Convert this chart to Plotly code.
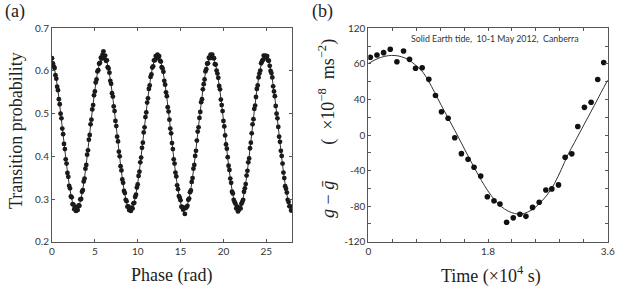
import plotly.graph_objects as go

# ---------------- Panel (a) data ----------------
phase_step_a = 0.1  # rad, scan step
prob_a = [
    # 0.0 - 5.9
    0.630, 0.618, 0.611, 0.607, 0.590, 0.582, 0.563, 0.555, 0.534, 0.522,
    0.500, 0.489, 0.465, 0.452, 0.429, 0.417, 0.393, 0.383, 0.361, 0.352,
    0.331, 0.325, 0.306, 0.304, 0.288, 0.287, 0.276, 0.281, 0.272, 0.279,
    0.274, 0.285, 0.284, 0.299, 0.300, 0.317, 0.321, 0.341, 0.348, 0.371,
    0.380, 0.404, 0.414, 0.439, 0.450, 0.475, 0.486, 0.510, 0.520, 0.543,
    0.552, 0.573, 0.580, 0.599, 0.602, 0.617, 0.619, 0.631, 0.629, 0.638,
    # 6.0 - 12.2
    0.646, 0.630, 0.636, 0.624, 0.625, 0.609, 0.606, 0.596, 0.577, 0.570,
    0.548, 0.540, 0.517, 0.506, 0.483, 0.471, 0.446, 0.435, 0.411, 0.400,
    0.377, 0.367, 0.346, 0.338, 0.319, 0.314, 0.298, 0.295, 0.282, 0.283,
    0.274, 0.278, 0.272, 0.280, 0.278, 0.290, 0.291, 0.305, 0.310, 0.327,
    0.334, 0.354, 0.364, 0.386, 0.397, 0.420, 0.432, 0.456, 0.468, 0.492,
    0.503, 0.526, 0.536, 0.558, 0.566, 0.586, 0.592, 0.608, 0.611, 0.625,
    0.625, 0.635, 0.631,
    # 12.3 - 18.5
    0.638, 0.632, 0.635, 0.624, 0.622, 0.609, 0.606, 0.598, 0.577, 0.568,
    0.550, 0.541, 0.515, 0.505, 0.486, 0.465, 0.454, 0.431, 0.417, 0.393,
    0.383, 0.362, 0.353, 0.332, 0.323, 0.307, 0.303, 0.297, 0.282, 0.281,
    0.275, 0.279, 0.265, 0.279, 0.281, 0.284, 0.298, 0.301, 0.316, 0.320,
    0.340, 0.349, 0.371, 0.380, 0.401, 0.413, 0.437, 0.458, 0.468, 0.490,
    0.504, 0.527, 0.534, 0.557, 0.569, 0.580, 0.599, 0.604, 0.617, 0.618,
    0.631, 0.630, 0.638,
    # 18.6 - 24.8
    0.633, 0.638, 0.630, 0.630, 0.616, 0.615, 0.601, 0.594, 0.584, 0.565,
    0.557, 0.533, 0.520, 0.506, 0.483, 0.470, 0.449, 0.428, 0.418, 0.398,
    0.378, 0.368, 0.348, 0.338, 0.317, 0.313, 0.298, 0.293, 0.289, 0.278,
    0.282, 0.271, 0.275, 0.280, 0.278, 0.289, 0.293, 0.298, 0.317, 0.325,
    0.335, 0.355, 0.366, 0.386, 0.395, 0.419, 0.432, 0.454, 0.475, 0.487,
    0.511, 0.519, 0.539, 0.558, 0.566, 0.585, 0.594, 0.601, 0.618, 0.623,
    0.626, 0.636, 0.633,
    # 24.9 - 27.9
    0.636, 0.631, 0.635, 0.625, 0.624, 0.612, 0.600, 0.595, 0.585, 0.564,
    0.552, 0.541, 0.518, 0.500, 0.489, 0.469, 0.446, 0.434, 0.413, 0.401,
    0.383, 0.362, 0.349, 0.330, 0.324, 0.315, 0.298, 0.293, 0.283, 0.283,
    0.273,
]
fit_step_a = 0.2
fit_a = [
    0.627, 0.613, 0.593, 0.567, 0.537, 0.503, 0.468, 0.432, 0.397, 0.364,
    0.335, 0.311, 0.292, 0.280, 0.275, 0.277, 0.287, 0.302, 0.324, 0.351,
    0.383, 0.417, 0.453, 0.489, 0.523, 0.555, 0.583, 0.605, 0.622, 0.632,
    0.635, 0.631, 0.621, 0.604, 0.580, 0.552, 0.520, 0.486, 0.450, 0.414,
    0.380, 0.349, 0.322, 0.301, 0.285, 0.277, 0.275, 0.281, 0.294, 0.313,
    0.337, 0.367, 0.400, 0.435, 0.471, 0.506, 0.539, 0.569, 0.595, 0.614,
    0.628, 0.634,
    0.634, 0.627, 0.613, 0.593, 0.567, 0.537, 0.503, 0.468, 0.432, 0.397,
    0.364, 0.335, 0.311, 0.292, 0.280, 0.275, 0.277, 0.287, 0.302, 0.324,
    0.351, 0.383, 0.417, 0.453, 0.489, 0.523, 0.555, 0.583, 0.605, 0.622,
    0.632,
    0.635, 0.631, 0.621, 0.604, 0.580, 0.552, 0.520, 0.486, 0.450, 0.414,
    0.380, 0.349, 0.322, 0.301, 0.285, 0.277, 0.275, 0.281, 0.294, 0.313,
    0.337, 0.367, 0.400, 0.435, 0.471, 0.506, 0.539, 0.569, 0.595, 0.614,
    0.628, 0.634,
    0.634, 0.627, 0.613, 0.593, 0.567, 0.537, 0.503, 0.468, 0.432, 0.397,
    0.364, 0.335, 0.311, 0.292, 0.280, 0.275,
]
xticks_a = [0, 5, 10, 15, 20, 25]
yticks_a = [0.2, 0.3, 0.4, 0.5, 0.6, 0.7]
yticklabels_a = ["0.2", "0.3", "0.4", "0.5", "0.6", "0.7"]

# ---------------- Panel (b) data ----------------
time_b = [0.03, 0.13, 0.23, 0.33, 0.43, 0.53, 0.62, 0.71, 0.81, 0.91,
          1.01, 1.10, 1.20, 1.30, 1.40, 1.50, 1.59, 1.69, 1.79, 1.89,
          1.98, 2.08, 2.18, 2.28, 2.37, 2.47, 2.57, 2.67, 2.76, 2.86,
          2.96, 3.06, 3.15, 3.25, 3.35, 3.45, 3.54]
g_b = [87.4, 90.0, 92.6, 96.4, 82.4, 94.5, 85.1, 75.0, 75.7, 62.6,
       44.5, 26.2, 18.8, -3.1, -21.0, -27.4, -36.2, -46.2, -69.4, -73.9,
       -77.7, -98.1, -93.2, -89.1, -91.5, -81.4, -75.6, -61.9, -60.6, -56.1,
       -25.1, -21.2, 9.5, 31.1, 36.8, 62.4, 81.5]
fit_time_b = [0.0, 0.1, 0.2, 0.3, 0.4, 0.5, 0.6, 0.7, 0.8, 0.9,
              1.0, 1.1, 1.2, 1.3, 1.4, 1.5, 1.6, 1.7, 1.8, 1.9,
              2.0, 2.1, 2.2, 2.3, 2.4, 2.5, 2.6, 2.7, 2.8, 2.9,
              3.0, 3.1, 3.2, 3.3, 3.4, 3.5, 3.6]
fit_g_b = [80.3, 84.5, 87.5, 89.2, 89.4, 88.0, 84.8, 79.3, 72.5, 61.5,
           47.5, 33.0, 19.2, 5.3, -9.0, -23.6, -37.6, -51.0, -63.0, -73.0,
           -80.5, -85.5, -88.3, -88.9, -86.6, -82.0, -75.0, -66.3, -54.5, -39.2,
           -22.5, -8.5, 5.5, 19.5, 33.5, 47.7, 61.8]
xticks_b = [0, 0.36, 0.72, 1.08, 1.44, 1.8, 2.16, 2.52, 2.88, 3.24, 3.6]
xticklabels_b = ["0", "", "", "", "", "1.8", "", "", "", "", "3.6"]
yticks_b = [-120, -100, -80, -60, -40, -20, 0, 20, 40, 60, 80, 100, 120]
yticklabels_b = ["-120", "", "-80", "", "-40", "", "0", "", "40", "", "60", "", "120"]

# ---------------- Figure ----------------
W, H = 620, 289
phase_a = [round(phase_step_a * i, 2) for i in range(len(prob_a))]
fit_phase_a = [round(fit_step_a * i, 2) for i in range(len(fit_a))]

fig = go.Figure()
fig.add_trace(go.Scatter(x=fit_phase_a, y=fit_a, mode="lines", line=dict(color="#333333", width=1, shape="spline"),
                         xaxis="x", yaxis="y", hoverinfo="skip"))
fig.add_trace(go.Scatter(x=phase_a, y=prob_a, mode="markers", marker=dict(color="#1a1a1a", size=4.8),
                         xaxis="x", yaxis="y"))
fig.add_trace(go.Scatter(x=fit_time_b, y=fit_g_b, mode="lines", line=dict(color="#333333", width=1, shape="spline"),
                         xaxis="x2", yaxis="y2", hoverinfo="skip"))
fig.add_trace(go.Scatter(x=time_b, y=g_b, mode="markers", marker=dict(color="#111111", size=5.6),
                         xaxis="x2", yaxis="y2"))

tickfont = dict(family="Lato, 'Open Sans', sans-serif", size=10, color="#333333")
axis_common = dict(showline=True, linecolor="#555555", linewidth=1, mirror="ticks", ticks="inside",
                   ticklen=3, tickcolor="#555555", tickwidth=1, showgrid=False, zeroline=False,
                   tickfont=tickfont, automargin=False, ticklabeloverflow="allow")

ydom = [1 - 241.7 / H, 1 - 28.3 / H]
fig.update_layout(
    width=W, height=H, margin=dict(l=0, r=0, t=0, b=0),
    paper_bgcolor="white", plot_bgcolor="white", showlegend=False,
    xaxis=dict(domain=[52.0 / W, 292.0 / W], range=[0, 28], tickvals=xticks_a, anchor="y", **axis_common),
    yaxis=dict(domain=ydom, range=[0.2, 0.7], tickvals=yticks_a, ticktext=yticklabels_a, anchor="x", **axis_common),
    xaxis2=dict(domain=[368.3 / W, 607.7 / W], range=[0, 3.6], tickvals=xticks_b, ticktext=xticklabels_b,
                anchor="y2", **axis_common),
    yaxis2=dict(domain=ydom, range=[-120, 120], tickvals=yticks_b, ticktext=yticklabels_b, anchor="x2",
                **axis_common),
)

serif = "'Liberation Serif', 'DejaVu Serif', serif"


def ann(text, x, y, size, angle=0, family=serif, color="#222222"):
    fig.add_annotation(text=text, x=x / W, y=1 - y / H, xref="paper", yref="paper", showarrow=False,
                       xanchor="center", yanchor="middle", textangle=angle,
                       font=dict(family=family, size=size, color=color))


ann("(a)", 15, 12, 18)
ann("(b)", 322, 12, 18)
ann("Transition probability", 16, 131, 18, angle=-90)
ann("Phase (rad)", 171, 275, 18)
ann("Time (×10<sup>4</sup> s)", 491, 275, 18)
ann("<i>g</i> − <i>ḡ</i>\u2003\u2003(\u2002×10<sup>−8</sup>\u2002ms<sup>−2</sup>)", 327, 129, 18, angle=-90)
ann("Solid Earth tide,  10-1 May 2012,  Canberra", 495, 38, 8.8, family="Lato, 'Open Sans', sans-serif",
    color="#333333")

fig.write_html("out.html", config={"displayModeBar": False},
               post_script="document.body.style.margin='0px';document.body.style.overflow='hidden';")
